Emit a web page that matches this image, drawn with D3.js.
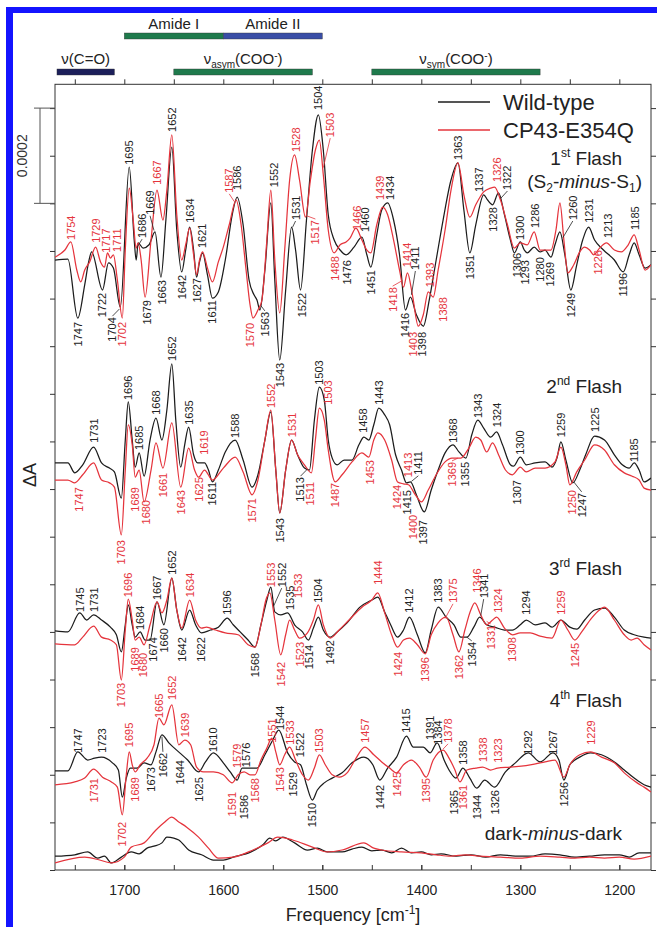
<!DOCTYPE html>
<html><head><meta charset="utf-8">
<script src="https://cdn.jsdelivr.net/npm/d3@7"></script>
<style>body{margin:0;background:#fff}svg{display:block}text{font-family:"Liberation Sans",Arial,sans-serif}</style>
</head><body><svg id="c" width="657" height="927"></svg>
<script>
// ---------- data (ΔA in units of 1e-5, frequency in cm-1) ----------
const freqDomain=[1770,1168];
const xTickLabels=[1700,1600,1500,1400,1300,1200];
const xTickMinor=[1750,1700,1650,1600,1550,1500,1450,1400,1350,1300,1250,1200];
const yTicks=d3.range(0,161,10);
const bands=[
 {name:"amideI",from:1700,to:1600,row:0},
 {name:"amideII",from:1600,to:1500,row:0},
 {name:"co",from:1768,to:1710,row:1},
 {name:"asym",from:1650,to:1510,row:1},
 {name:"sym",from:1450,to:1280,row:1}];
const seriesNames=["Wild-type","CP43-E354Q"];

const wt1=[[1770,128.1],[1757,128.3],[1747,115.9],[1740,122.9],[1736,127.7],[1733,129.8],[1722,121.8],[1716,127.5],[1711,126.4],[1704,118.2],[1695,147.6],[1690,132.3],[1688,128.1],[1686,131.7],[1681,130.6],[1675,131.3],[1669,134.0],[1663,124.5],[1658,136.5],[1652,151.8],[1647,134.4],[1642,125.6],[1638,130.2],[1634,135.0],[1630,130.2],[1627,124.5],[1624,127.7],[1621,129.6],[1616,125.0],[1611,120.1],[1605,121.4],[1598,128.1],[1591,137.6],[1586,141.3],[1580,135.5],[1574,123.9],[1569,120.8],[1566,119.7],[1563,117.6],[1558,126.0],[1552,140.1],[1548,123.9],[1543,107.1],[1537,121.8],[1531,135.0],[1527,130.2],[1522,121.8],[1516,136.5],[1510,151.2],[1504,158.6],[1499,151.2],[1494,137.6],[1488,132.3],[1482,130.2],[1476,129.2],[1468,130.8],[1460,132.9],[1455,129.2],[1451,126.6],[1445,133.4],[1440,138.6],[1434,140.1],[1428,136.5],[1422,129.2],[1416,117.6],[1411,120.3],[1405,116.6],[1398,114.2],[1392,119.7],[1385,128.1],[1378,136.5],[1370,144.9],[1363,148.5],[1357,138.6],[1351,129.6],[1345,135.5],[1337,141.8],[1333,140.7],[1328,139.7],[1322,142.2],[1316,137.6],[1310,132.3],[1306,129.6],[1300,131.9],[1296,130.2],[1293,129.6],[1286,130.8],[1280,129.8],[1275,130.2],[1269,128.7],[1265,131.3],[1260,134.0],[1255,129.2],[1249,121.8],[1243,127.1],[1237,132.3],[1231,135.0],[1225,132.3],[1216,130.2],[1205,128.1],[1196,125.6],[1190,129.2],[1185,131.7],[1180,129.2],[1174,126.4],[1168,127.1]];
const mut1=[[1770,128.7],[1760,130.2],[1754,131.9],[1748,126.0],[1744,123.5],[1740,126.0],[1735,127.7],[1729,130.8],[1724,127.7],[1720,126.6],[1717,129.6],[1714,128.5],[1711,129.2],[1707,123.9],[1702,115.9],[1699,130.2],[1695,143.2],[1691,136.5],[1688,130.6],[1686,131.7],[1683,128.1],[1679,120.3],[1673,132.3],[1667,142.8],[1661,136.5],[1657,142.8],[1652,154.4],[1647,137.6],[1642,128.1],[1638,131.3],[1634,134.8],[1630,129.2],[1627,125.0],[1624,128.1],[1621,129.8],[1616,126.4],[1611,123.5],[1605,127.7],[1600,130.8],[1594,135.5],[1587,140.7],[1582,135.5],[1577,126.0],[1573,118.7],[1570,115.9],[1565,117.6],[1561,119.7],[1556,132.3],[1552,142.8],[1548,128.1],[1543,117.0],[1538,130.2],[1533,144.9],[1528,150.2],[1523,144.9],[1517,137.1],[1512,144.9],[1507,151.2],[1503,153.3],[1499,146.0],[1494,134.4],[1488,129.6],[1482,131.3],[1476,131.9],[1472,132.7],[1466,134.8],[1460,132.3],[1455,130.2],[1451,129.6],[1445,135.5],[1439,139.2],[1434,137.6],[1428,132.3],[1422,126.0],[1418,122.4],[1414,125.4],[1409,120.8],[1403,114.2],[1398,116.6],[1393,121.4],[1388,120.3],[1383,126.0],[1376,134.4],[1370,142.8],[1363,148.5],[1357,141.8],[1351,137.1],[1345,139.7],[1337,142.4],[1330,143.2],[1326,143.4],[1320,140.7],[1313,135.5],[1306,130.6],[1300,131.7],[1293,131.3],[1286,134.0],[1280,130.2],[1275,130.2],[1269,130.2],[1264,134.4],[1260,140.1],[1256,132.3],[1252,125.4],[1246,127.1],[1240,129.8],[1235,130.8],[1230,130.2],[1226,129.2],[1220,130.6],[1213,131.7],[1205,130.2],[1198,129.8],[1191,131.3],[1185,133.4],[1180,130.2],[1174,126.0],[1168,127.1]];
const wt2=[[1770,85.5],[1757,85.5],[1750,83.4],[1742,85.1],[1731,88.8],[1723,85.5],[1715,84.4],[1710,83.6],[1703,78.1],[1699,90.3],[1696,98.3],[1692,90.3],[1689,84.6],[1685,87.6],[1680,82.7],[1674,90.3],[1668,94.9],[1662,90.3],[1657,96.6],[1652,106.3],[1648,94.5],[1643,84.6],[1639,89.3],[1635,93.0],[1630,87.2],[1626,85.5],[1619,85.5],[1615,84.0],[1611,81.5],[1605,84.0],[1598,87.8],[1588,90.3],[1580,86.1],[1571,80.4],[1565,83.0],[1558,90.3],[1552,96.2],[1547,84.0],[1543,75.0],[1537,84.0],[1531,90.3],[1525,87.2],[1518,84.4],[1513,84.0],[1508,94.5],[1503,101.4],[1498,98.7],[1494,90.3],[1490,86.5],[1485,85.1],[1478,86.1],[1470,86.1],[1463,89.3],[1458,90.9],[1453,90.3],[1448,93.5],[1443,97.0],[1437,95.6],[1432,93.5],[1426,87.2],[1420,84.0],[1415,81.3],[1411,81.5],[1405,78.8],[1397,75.2],[1390,79.8],[1383,84.0],[1376,87.6],[1368,89.3],[1362,87.8],[1355,86.5],[1349,91.4],[1343,94.5],[1337,92.8],[1330,90.9],[1324,92.0],[1318,89.3],[1310,85.1],[1307,84.8],[1300,86.7],[1294,85.1],[1285,85.5],[1275,85.7],[1268,84.6],[1263,86.5],[1259,89.9],[1254,86.1],[1247,81.3],[1240,84.0],[1234,87.2],[1225,91.1],[1215,90.3],[1205,87.2],[1197,85.1],[1190,84.4],[1185,85.5],[1180,84.0],[1175,81.5],[1168,82.3]];
const mut2=[[1770,81.9],[1757,81.9],[1750,81.3],[1742,83.0],[1731,85.5],[1723,81.9],[1715,81.3],[1710,80.4],[1703,70.4],[1699,84.0],[1696,93.5],[1692,89.3],[1689,82.5],[1685,84.0],[1680,77.3],[1673,84.0],[1668,89.7],[1661,84.4],[1652,93.9],[1643,80.4],[1635,88.6],[1629,84.0],[1625,82.5],[1619,84.0],[1611,81.9],[1600,84.4],[1588,86.7],[1580,83.6],[1571,78.8],[1565,81.9],[1558,90.3],[1552,96.6],[1547,84.0],[1543,75.0],[1537,84.0],[1531,90.3],[1525,87.2],[1518,85.1],[1511,83.4],[1507,90.3],[1503,97.0],[1498,94.5],[1494,88.2],[1487,81.5],[1480,83.0],[1470,85.7],[1460,87.6],[1453,86.7],[1448,90.3],[1444,91.8],[1437,90.3],[1430,86.1],[1424,81.5],[1418,81.1],[1413,80.9],[1406,78.8],[1400,77.3],[1393,79.8],[1385,83.0],[1376,85.7],[1369,86.5],[1360,86.5],[1352,88.6],[1345,90.9],[1340,90.3],[1334,87.8],[1328,89.7],[1322,87.2],[1315,84.0],[1308,83.0],[1300,84.6],[1294,83.6],[1285,84.4],[1275,84.4],[1265,85.7],[1259,88.8],[1254,85.1],[1250,80.9],[1243,83.6],[1235,86.1],[1225,89.3],[1215,88.2],[1205,85.1],[1195,83.4],[1187,82.7],[1180,81.9],[1175,80.2],[1168,79.8]];
const wt3=[[1770,50.2],[1757,50.0],[1745,54.0],[1738,52.5],[1731,53.6],[1723,52.5],[1714,51.0],[1708,49.4],[1703,45.8],[1699,51.5],[1696,55.7],[1692,51.5],[1689,48.9],[1684,50.0],[1679,48.3],[1674,48.3],[1667,56.3],[1660,51.5],[1652,61.3],[1647,54.6],[1642,50.4],[1634,54.6],[1628,51.5],[1622,49.8],[1613,50.4],[1605,51.0],[1596,52.9],[1590,51.5],[1583,50.0],[1575,48.3],[1568,46.8],[1562,51.5],[1556,56.7],[1552,59.4],[1548,54.2],[1542,53.6],[1535,54.0],[1528,51.5],[1520,50.0],[1514,48.3],[1509,50.8],[1504,53.1],[1499,50.4],[1492,48.9],[1485,50.0],[1475,51.9],[1462,55.2],[1450,56.7],[1444,57.3],[1437,54.2],[1431,51.5],[1424,48.9],[1418,50.4],[1412,53.1],[1404,49.4],[1396,45.6],[1390,50.4],[1383,55.2],[1375,53.1],[1367,51.5],[1360,48.9],[1354,48.9],[1347,51.0],[1341,53.1],[1334,51.5],[1326,51.0],[1316,50.4],[1308,50.4],[1300,51.5],[1294,52.5],[1285,51.5],[1275,51.9],[1268,51.0],[1259,52.5],[1250,51.0],[1243,50.6],[1235,52.5],[1225,54.6],[1215,55.0],[1205,53.1],[1195,50.4],[1185,49.4],[1175,48.9],[1168,48.7]];
const mut3=[[1770,47.5],[1750,47.3],[1742,48.9],[1731,51.2],[1723,48.9],[1714,48.3],[1708,47.3],[1703,39.9],[1699,50.4],[1696,56.9],[1692,52.5],[1689,48.3],[1685,48.9],[1680,47.3],[1674,51.5],[1667,56.3],[1662,54.0],[1657,56.7],[1652,61.3],[1647,54.6],[1642,50.8],[1634,56.7],[1628,52.5],[1622,50.8],[1617,51.0],[1608,50.4],[1598,49.8],[1585,49.4],[1575,47.3],[1568,46.8],[1562,51.5],[1557,56.7],[1553,58.2],[1548,52.5],[1542,45.2],[1537,49.4],[1533,52.5],[1528,50.4],[1523,48.7],[1515,49.8],[1509,52.5],[1504,55.7],[1499,51.5],[1492,48.7],[1483,50.4],[1473,52.5],[1460,55.2],[1450,56.7],[1444,58.2],[1437,54.0],[1430,49.4],[1424,46.8],[1418,48.3],[1412,48.7],[1404,47.3],[1396,45.4],[1390,49.4],[1383,51.9],[1375,53.1],[1368,49.4],[1362,45.8],[1356,50.4],[1350,54.6],[1346,56.1],[1340,53.6],[1334,51.5],[1328,52.5],[1324,53.1],[1316,50.8],[1308,49.4],[1300,49.8],[1290,49.8],[1280,49.1],[1268,48.7],[1259,52.5],[1252,50.4],[1245,48.3],[1238,50.0],[1228,52.9],[1220,54.6],[1215,55.2],[1205,52.5],[1195,49.4],[1188,48.3],[1182,48.7],[1175,47.3],[1168,46.2]];
const wt4=[[1770,20.8],[1757,20.8],[1747,24.8],[1737,23.1],[1730,23.5],[1723,23.7],[1712,22.5],[1706,21.0],[1702,15.3],[1698,19.3],[1694,21.4],[1687,21.4],[1680,22.5],[1673,22.1],[1668,24.8],[1662,28.4],[1655,26.7],[1644,24.6],[1636,23.1],[1625,20.6],[1618,22.7],[1610,24.6],[1600,22.5],[1593,20.6],[1586,18.9],[1581,21.4],[1576,21.4],[1566,21.4],[1558,24.2],[1550,27.3],[1544,29.4],[1535,24.6],[1528,22.7],[1522,22.1],[1516,17.9],[1510,14.7],[1505,16.8],[1498,18.3],[1490,19.3],[1480,20.4],[1470,22.5],[1458,23.7],[1449,22.1],[1442,18.9],[1434,21.4],[1425,23.7],[1415,28.1],[1408,25.8],[1398,25.8],[1391,24.6],[1384,26.7],[1377,23.1],[1372,21.0],[1365,19.3],[1358,21.4],[1351,19.3],[1344,17.2],[1336,18.9],[1326,17.4],[1315,20.6],[1305,22.5],[1292,24.6],[1280,22.7],[1267,24.6],[1261,23.1],[1256,18.9],[1250,22.1],[1240,23.7],[1229,24.6],[1218,24.2],[1205,22.7],[1195,21.0],[1185,19.3],[1175,17.9],[1168,17.4]];
const mut4=[[1770,17.9],[1750,18.5],[1740,19.3],[1731,21.2],[1722,19.5],[1713,18.5],[1707,17.4],[1702,11.6],[1698,20.0],[1695,24.8],[1692,22.1],[1689,20.6],[1684,22.1],[1677,23.5],[1670,26.3],[1665,31.9],[1660,30.5],[1652,34.7],[1645,26.3],[1639,27.3],[1633,26.3],[1627,21.6],[1620,20.6],[1610,20.6],[1600,20.0],[1591,18.3],[1585,20.0],[1579,20.6],[1573,20.0],[1568,20.0],[1562,23.1],[1556,25.6],[1551,27.7],[1547,24.8],[1543,22.1],[1538,24.2],[1533,25.8],[1527,23.1],[1520,20.0],[1514,18.9],[1508,21.4],[1503,24.2],[1497,22.1],[1490,20.0],[1483,19.5],[1475,20.4],[1467,23.1],[1457,25.8],[1448,24.2],[1440,22.7],[1432,21.4],[1425,20.4],[1418,22.1],[1410,23.1],[1402,21.6],[1395,19.5],[1388,23.1],[1378,25.2],[1372,23.5],[1366,21.0],[1361,18.5],[1354,21.0],[1345,21.4],[1338,21.6],[1330,21.0],[1323,21.4],[1310,21.6],[1290,22.1],[1275,22.7],[1265,23.1],[1256,19.5],[1250,22.1],[1240,24.2],[1229,24.8],[1218,23.7],[1205,22.5],[1195,20.4],[1182,18.3],[1175,17.4],[1168,16.4]];
const wtDark=[[1770,2.9],[1750,3.2],[1737,3.8],[1727,2.5],[1720,2.9],[1713,1.5],[1703,2.7],[1693,3.8],[1685,3.4],[1677,4.6],[1670,5.0],[1662,5.7],[1657,6.9],[1650,6.7],[1645,6.3],[1635,4.2],[1622,3.2],[1610,2.1],[1600,2.1],[1590,2.7],[1572,3.8],[1560,5.3],[1553,6.7],[1547,6.1],[1540,6.9],[1528,5.7],[1515,4.2],[1505,4.6],[1495,3.8],[1480,3.8],[1470,4.4],[1460,4.8],[1450,4.0],[1440,4.2],[1430,3.6],[1420,4.6],[1410,3.6],[1400,3.8],[1390,3.2],[1380,3.4],[1365,2.9],[1350,3.2],[1335,2.7],[1320,3.2],[1305,2.9],[1290,2.9],[1275,3.4],[1260,3.2],[1245,2.7],[1230,2.9],[1215,3.2],[1200,3.2],[1190,2.7],[1180,3.6],[1168,3.6]];
const mutDark=[[1770,1.5],[1740,2.7],[1725,2.1],[1713,1.5],[1700,2.7],[1693,4.8],[1680,5.7],[1668,8.4],[1660,9.9],[1652,11.1],[1645,10.1],[1637,9.0],[1625,6.9],[1615,4.6],[1605,2.5],[1590,2.7],[1570,4.2],[1555,5.7],[1545,6.9],[1530,6.3],[1510,4.8],[1495,3.8],[1480,4.2],[1458,5.7],[1448,4.6],[1440,4.2],[1420,3.8],[1400,3.6],[1385,3.2],[1370,2.9],[1355,3.2],[1340,2.9],[1320,2.7],[1300,2.5],[1280,2.9],[1260,2.7],[1245,2.5],[1230,2.7],[1215,2.5],[1200,2.7],[1185,2.3],[1168,2.9]];

// peak labels: [text, placement frequency, value at label end, a=above/b=below, k=black/r=red, optional leader target [freq,value]]
const labels1=[["1754",1754,132.3,"a","r"],["1729",1729,131.7,"a","r"],["1717",1718,129.6,"a","r"],["1711",1707,129.8,"a","r"],["1747",1747,115.1,"b","k"],["1722",1722,121.2,"b","k"],["1704",1712,116.1,"b","k",[1705,117.8]],["1702",1702,115.1,"b","r"],["1695",1695,148.1,"a","k"],["1686",1682,132.7,"a","k",[1687,130.8]],["1669",1674,137.6,"a","k",[1670,134.3]],["1667",1667,143.9,"a","r"],["1679",1677,119.7,"b","k"],["1663",1662,123.9,"b","k"],["1652",1652,155.0,"a","k"],["1642",1642,125.0,"b","k"],["1634",1634,135.9,"a","k"],["1627",1627,124.3,"b","k"],["1621",1621,130.6,"a","k"],["1611",1611,119.7,"b","k"],["1587",1594,142.2,"a","r",[1589,140.4]],["1586",1586,142.8,"a","k"],["1570",1573,114.9,"b","r"],["1563",1558,117.2,"b","k",[1562,118.5]],["1552",1549,143.4,"a","k"],["1543",1543,106.5,"b","k"],["1528",1527,150.8,"a","r"],["1531",1527,136.5,"a","k",[1530,135.0]],["1517",1507,136.5,"b","r",[1516,137.4]],["1522",1520,121.2,"b","k"],["1504",1504,159.6,"a","k"],["1503",1492,153.9,"a","r",[1499,147.5]],["1488",1487,128.9,"b","r"],["1476",1475,128.1,"b","k"],["1466",1465,134.4,"a","r"],["1460",1457,134.0,"a","k"],["1451",1451,126.0,"b","k"],["1439",1442,140.7,"a","r"],["1434",1432,140.7,"a","k"],["1418",1429,122.4,"b","r",[1419,123.8]],["1414",1414,126.6,"a","r"],["1411",1406,126.0,"a","k",[1410,120.8]],["1416",1416,117.0,"b","k"],["1403",1408,113.0,"b","r"],["1398",1399,113.0,"b","k"],["1393",1391,122.4,"a","r"],["1388",1378,120.3,"b","r"],["1363",1363,149.1,"a","k"],["1351",1351,129.2,"b","k"],["1337",1342,142.4,"a","k"],["1326",1324,144.5,"a","r"],["1322",1313,142.8,"a","k",[1320,141.0]],["1328",1328,139.2,"b","k"],["1300",1300,132.3,"a","k"],["1286",1285,134.8,"a","k"],["1306",1303,129.6,"b","k"],["1293",1295,128.1,"b","k"],["1280",1280,128.7,"b","k"],["1269",1270,127.7,"b","k"],["1260",1247,136.5,"a","k",[1257,132.8]],["1249",1249,121.2,"b","k"],["1231",1231,135.9,"a","k"],["1213",1211,132.7,"a","k"],["1226",1222,130.2,"b","r"],["1196",1196,125.4,"b","k"],["1185",1184,134.4,"a","k"]];
const labels2=[["1731",1731,89.7,"a","k"],["1747",1746,80.4,"b","r"],["1696",1696,98.7,"a","k"],["1685",1685,88.2,"a","k"],["1668",1668,95.6,"a","k"],["1652",1652,106.9,"a","k"],["1635",1635,93.5,"a","k"],["1619",1619,87.2,"a","r"],["1588",1588,90.7,"a","k"],["1552",1552,97.0,"a","r"],["1531",1531,90.9,"a","r"],["1503",1503,101.9,"a","k"],["1503",1494,97.7,"a","r"],["1689",1689,80.4,"b","r"],["1680",1678,77.7,"b","r"],["1661",1661,83.4,"b","r"],["1643",1643,79.8,"b","r"],["1625",1625,82.5,"b","r"],["1611",1611,81.5,"b","k"],["1571",1571,78.1,"b","r"],["1543",1543,73.9,"b","k"],["1513",1522,82.5,"b","k",[1515,84.2]],["1511",1512,81.5,"b","r"],["1703",1703,69.3,"b","r"],["1458",1459,91.8,"a","k"],["1443",1443,97.7,"a","k"],["1487",1487,81.3,"b","r"],["1453",1452,86.1,"b","r"],["1424",1425,80.9,"b","r"],["1413",1413,82.5,"a","r"],["1411",1403,83.0,"a","k",[1410,81.6]],["1415",1414,79.8,"b","k"],["1400",1408,74.6,"b","r"],["1397",1398,73.5,"b","k"],["1368",1368,89.7,"a","k"],["1369",1369,85.7,"b","r",[1363,86.5]],["1355",1356,85.7,"b","k"],["1343",1343,94.9,"a","k"],["1324",1324,93.0,"a","k"],["1300",1300,87.2,"a","k"],["1307",1303,81.9,"b","k"],["1259",1259,90.9,"a","k"],["1250",1248,79.8,"b","r"],["1247",1238,79.2,"b","k",[1246,81.5]],["1225",1225,92.0,"a","k"],["1185",1185,85.7,"a","k"]];
const labels3=[["1745",1745,54.2,"a","k"],["1731",1731,54.2,"a","k"],["1696",1696,57.3,"a","r"],["1684",1684,50.4,"a","k"],["1667",1667,56.7,"a","k"],["1652",1652,62.0,"a","k"],["1634",1634,57.3,"a","r"],["1596",1596,53.6,"a","k"],["1553",1552,59.4,"a","r"],["1552",1541,59.4,"a","k",[1549,55.5]],["1535",1533,54.6,"a","k"],["1533",1525,57.1,"a","r"],["1504",1504,56.1,"a","k"],["1689",1689,46.8,"b","r"],["1680",1681,45.6,"b","r"],["1674",1671,48.9,"b","k"],["1660",1660,50.8,"b","k"],["1642",1642,48.9,"b","k"],["1622",1622,48.9,"b","k"],["1703",1703,39.3,"b","r"],["1568",1568,45.6,"b","k"],["1542",1542,43.7,"b","r"],["1523",1522,47.9,"b","r"],["1514",1513,47.3,"b","k"],["1492",1492,48.3,"b","k"],["1444",1444,59.9,"a","r"],["1412",1412,54.0,"a","k"],["1383",1383,56.1,"a","k"],["1375",1368,56.1,"a","r",[1376,52.8]],["1346",1344,58.2,"a","r"],["1341",1337,57.1,"a","k",[1340,53.4]],["1324",1323,54.0,"a","r"],["1294",1294,53.6,"a","k"],["1259",1259,53.6,"a","r"],["1424",1424,45.8,"b","r"],["1396",1396,44.7,"b","r"],["1362",1362,45.2,"b","r"],["1354",1349,47.9,"b","k",[1354,48.9]],["1331",1330,51.5,"b","r",[1334,52.2]],["1308",1308,48.9,"b","r"],["1245",1245,47.7,"b","r"]];
const labels4=[["1747",1747,24.6,"a","k"],["1723",1723,24.6,"a","k"],["1695",1695,25.8,"a","r"],["1665",1665,31.9,"a","r"],["1652",1652,35.7,"a","r"],["1639",1639,27.9,"a","r"],["1662",1661,24.6,"b","k",[1662,28.0]],["1673",1673,21.6,"b","k"],["1689",1689,19.5,"b","r"],["1731",1731,19.3,"b","r"],["1702",1702,10.1,"b","r"],["1644",1644,23.1,"b","k"],["1610",1610,24.8,"a","k"],["1625",1625,19.5,"b","k"],["1579",1586,21.4,"a","r"],["1576",1577,21.6,"a","k"],["1591",1591,16.4,"b","r"],["1586",1579,15.8,"b","k"],["1568",1568,19.3,"b","r"],["1551",1551,26.7,"a","r"],["1544",1543,29.4,"a","k"],["1533",1533,26.3,"a","r"],["1522",1522,23.7,"a","k"],["1503",1503,24.6,"a","r"],["1543",1543,21.6,"b","r"],["1529",1530,20.6,"b","k"],["1510",1510,14.1,"b","k"],["1457",1457,26.7,"a","r"],["1415",1415,28.8,"a","k"],["1391",1391,27.3,"a","k"],["1384",1383,26.3,"a","k"],["1378",1373,26.7,"a","r",[1378,25.4]],["1358",1358,22.1,"a","k"],["1338",1338,22.7,"a","r"],["1323",1323,22.5,"a","r"],["1292",1292,24.2,"a","k"],["1267",1267,24.2,"a","k"],["1229",1229,26.3,"a","r"],["1442",1442,17.9,"b","k"],["1425",1425,20.6,"b","r"],["1395",1395,19.3,"b","r"],["1365",1367,16.8,"b","k"],["1361",1358,17.9,"b","r"],["1344",1344,15.8,"b","k"],["1326",1326,16.8,"b","k"],["1256",1256,18.5,"b","k"]];

// ---------- drawing ----------
const W=657,H=927,L=55,R=651,T=84.3,B=870;
const BLACK="#1c1c1c",RED="#e5343c";
const svg=d3.select("#c");
const x=d3.scaleLinear().domain(freqDomain).range([L,R]);
const y=d3.scaleLinear().domain([0,165]).range([B,T]);

// blue border
svg.append("rect").attr("x",6).attr("y",7).attr("width",W-6).attr("height",6).attr("fill","#1414ff");
svg.append("rect").attr("x",6).attr("y",7).attr("width",7).attr("height",H-7).attr("fill","#1414ff");

// band bars
const bandColor={amideI:"#1f7a4c",amideII:"#3a4ea6",co:"#1c1f5a",asym:"#1f7a4c",sym:"#1f7a4c"};
const rowY=[33,69];
svg.selectAll(".band").data(bands).enter().append("rect")
 .attr("x",d=>x(d.from)).attr("width",d=>x(d.to)-x(d.from))
 .attr("y",d=>rowY[d.row]).attr("height",6)
 .attr("fill",d=>bandColor[d.name]).attr("stroke","#333").attr("stroke-width",0.4);
function bandText(cx,yy,parts){
  const t=svg.append("text").attr("x",cx).attr("y",yy).attr("text-anchor","middle").attr("font-size",15).attr("fill","#222");
  parts.forEach(p=>{const s=t.append("tspan").text(p[0]);if(p[1])s.attr("font-size",p[1]);if(p[2])s.attr("dy",p[2]);});
  return t;
}
bandText(x(1650),29,[["Amide I"]]);
bandText(x(1550),29,[["Amide II"]]);
bandText(x(1739),64,[["ν(C=O)"]]);
bandText(x(1580),64,[["ν"],["asym",10,4],["(COO",null,-4],["-",10,-5],[")",null,5]]);
bandText(x(1365),64,[["ν"],["sym",10,4],["(COO",null,-4],["-",10,-5],[")",null,5]]);

// axes
svg.append("g").attr("transform",`translate(0,${B})`)
 .call(d3.axisBottom(x).tickValues(xTickLabels).tickSize(-5).tickPadding(15).tickFormat(d3.format("d")))
 .call(g=>{g.select(".domain").remove();g.selectAll("text").attr("font-size",14).attr("fill","#222").attr("font-family","Liberation Sans, Arial, sans-serif");g.selectAll("line").attr("stroke","#333");});
svg.append("g").attr("transform",`translate(0,${B})`)
 .call(d3.axisBottom(x).tickValues(xTickMinor).tickSize(-5).tickFormat(""))
 .call(g=>{g.select(".domain").remove();g.selectAll("line").attr("stroke","#333");});
svg.append("g").attr("transform",`translate(0,${T})`)
 .call(d3.axisTop(x).tickValues(xTickMinor).tickSize(5).tickFormat(""))
 .call(g=>{g.select(".domain").remove();g.selectAll("line").attr("stroke","#333");});
svg.append("g").attr("transform",`translate(${L},0)`)
 .call(d3.axisLeft(y).tickValues(yTicks).tickSize(5).tickFormat(""))
 .call(g=>{g.select(".domain").remove();g.selectAll("line").attr("stroke","#333");});
svg.append("g").attr("transform",`translate(${R},0)`)
 .call(d3.axisRight(y).tickValues(yTicks).tickSize(5).tickFormat(""))
 .call(g=>{g.select(".domain").remove();g.selectAll("line").attr("stroke","#333");});
svg.append("rect").attr("x",L).attr("y",T).attr("width",R-L).attr("height",B-T).attr("fill","none").attr("stroke","#333").attr("stroke-width",1);

// scale bar 0.0002
const sb=svg.append("g").attr("stroke","#555").attr("stroke-width",1);
sb.append("line").attr("x1",40).attr("x2",40).attr("y1",y(140)).attr("y2",y(160));
sb.append("line").attr("x1",34).attr("x2",L).attr("y1",y(160)).attr("y2",y(160));
sb.append("line").attr("x1",34).attr("x2",L).attr("y1",y(140)).attr("y2",y(140));
svg.append("text").attr("transform",`translate(22,${y(150)}) rotate(-90)`).attr("text-anchor","middle").attr("dy","0.35em").attr("font-size",14).attr("fill","#333").text("0.0002");

// curves
svg.append("clipPath").attr("id","pc").append("rect").attr("x",L).attr("y",T).attr("width",R-L).attr("height",B-T);
const line=d3.line().x(d=>x(d[0])).y(d=>y(d[1])).curve(d3.curveMonotoneX);
const traces=[[wt1,BLACK],[wt2,BLACK],[wt3,BLACK],[wt4,BLACK],[wtDark,BLACK],[mut1,RED],[mut2,RED],[mut3,RED],[mut4,RED],[mutDark,RED]];
const gc=svg.append("g").attr("clip-path","url(#pc)");
gc.selectAll("path").data(traces).enter().append("path")
 .attr("d",d=>line(d[0])).attr("fill","none").attr("stroke",d=>d[1]).attr("stroke-width",1.25).attr("stroke-linejoin","round");

// peak labels + leaders
const allLabels=[].concat(labels1,labels2,labels3,labels4);
const col=d=>d[4]==="r"?RED:"#222";
svg.append("g").selectAll("line").data(allLabels.filter(d=>d[5])).enter().append("line")
 .attr("x1",d=>x(d[1])).attr("y1",d=>y(d[2])+(d[3]==="a"?1:-1))
 .attr("x2",d=>x(d[5][0])).attr("y2",d=>y(d[5][1]))
 .attr("stroke",col).attr("stroke-width",0.8);
svg.append("g").selectAll("text").data(allLabels).enter().append("text")
 .attr("transform",d=>`translate(${x(d[1])},${y(d[2])}) rotate(-90)`)
 .attr("text-anchor",d=>d[3]==="a"?"start":"end").attr("dy","0.36em")
 .attr("font-size",11).attr("fill",col).text(d=>d[0]);

// legend
const lg=svg.append("g");
[[BLACK,102],[RED,130]].forEach((c,i)=>{
  lg.append("line").attr("x1",438).attr("x2",490).attr("y1",c[1]).attr("y2",c[1]).attr("stroke",c[0]).attr("stroke-width",1.3);
  lg.append("text").attr("x",503).attr("y",c[1]).attr("dy","0.36em").attr("font-size",22).attr("fill","#222").text(seriesNames[i]);
});

// flash titles
function flashTitle(yy,num,sup){
  const t=svg.append("text").attr("x",622).attr("y",yy).attr("text-anchor","end").attr("font-size",19).attr("fill","#222");
  t.append("tspan").text(num);
  t.append("tspan").text(sup).attr("font-size",12).attr("dy",-8);
  t.append("tspan").text(" Flash").attr("dy",8);
}
flashTitle(165,"1","st");
flashTitle(393,"2","nd");
flashTitle(575,"3","rd");
flashTitle(707,"4","th");
const s2=svg.append("text").attr("x",642).attr("y",188).attr("text-anchor","end").attr("font-size",19).attr("fill","#222");
s2.append("tspan").text("(S");
s2.append("tspan").text("2").attr("font-size",12).attr("dy",4);
s2.append("tspan").text("-").attr("dy",-4);
s2.append("tspan").text("minus").attr("font-style","italic");
s2.append("tspan").text("-S");
s2.append("tspan").text("1").attr("font-size",12).attr("dy",4);
s2.append("tspan").text(")").attr("dy",-4);
const dd=svg.append("text").attr("x",622).attr("y",840).attr("text-anchor","end").attr("font-size",19).attr("fill","#222");
dd.append("tspan").text("dark-");
dd.append("tspan").text("minus").attr("font-style","italic");
dd.append("tspan").text("-dark");

// axis titles
svg.append("text").attr("transform","translate(30,475) rotate(-90)").attr("text-anchor","middle").attr("dy","0.35em").attr("font-size",18).attr("fill","#222").text("ΔA");
const xt=svg.append("text").attr("x",(L+R)/2).attr("y",921).attr("text-anchor","middle").attr("font-size",18).attr("fill","#222");
xt.append("tspan").text("Frequency [cm");
xt.append("tspan").text("-1").attr("font-size",12).attr("dy",-7);
xt.append("tspan").text("]").attr("dy",7);
</script></body></html>
